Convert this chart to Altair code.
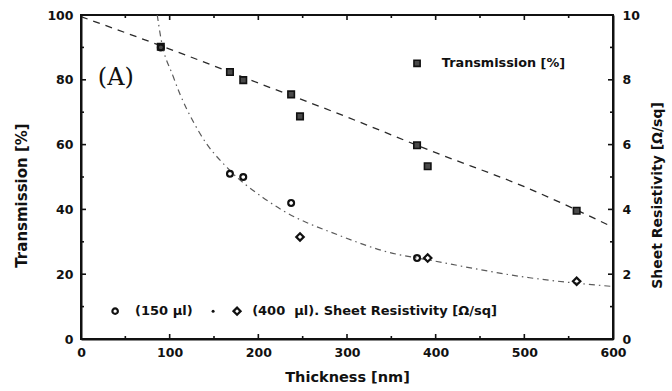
import altair as alt
import pandas as pd

# ---- data ----
thick_T = [90, 168, 183, 237, 247, 379, 391, 559]
trans = [90.2, 82.4, 79.9, 75.5, 68.7, 59.8, 53.3, 39.6]

thick_150 = [90, 168, 183, 237, 379]
res_150 = [9.0, 5.1, 5.0, 4.2, 2.5]

thick_400 = [247, 391, 559]
res_400 = [3.15, 2.5, 1.78]

# dashed fit curves
fitT_x = [0, 100, 200, 300, 400, 500, 600]
fitT_y = [99.5, 89.5, 79.0, 68.5, 57.5, 47.0, 34.5]
fitR_x = [86, 90, 104, 134, 168, 205, 228, 292, 341, 400, 506, 600]
fitR_y = [10.0, 9.3, 8.1, 6.35, 5.2, 4.37, 3.96, 3.19, 2.72, 2.4, 1.89, 1.62]

x_major = [0, 100, 200, 300, 400, 500, 600]
x_minor = [50, 150, 250, 350, 450, 550]
yl_major = [0, 20, 40, 60, 80, 100]
yl_minor = [10, 30, 50, 70, 90]
yr_major = [0, 2, 4, 6, 8, 10]
yr_minor = [1, 3, 5, 7, 9]

FONT = "DejaVu Sans"
INK = "#111111"
W, H = 532, 324
MAJ, MIN = 5, 3

dfT = pd.DataFrame({"x": thick_T, "y": trans})
df150 = pd.DataFrame({"x": thick_150, "y": res_150})
df400 = pd.DataFrame({"x": thick_400, "y": res_400})
dfFT = pd.DataFrame({"x": fitT_x, "y": fitT_y})
dfFR = pd.DataFrame({"x": fitR_x, "y": fitR_y})

xscale = alt.Scale(domain=[0, 600], nice=False)
ylscale = alt.Scale(domain=[0, 100], nice=False)
yrscale = alt.Scale(domain=[0, 10], nice=False)

x_main = alt.Axis(values=x_major, orient="bottom", ticks=False, tickSize=0, labelPadding=7, labelFlush=False,
                  title="Thickness [nm]", titlePadding=12, titleFontSize=14.5)
yl_main = alt.Axis(values=yl_major, orient="left", ticks=False, tickSize=0, labelPadding=8, labelFlush=False,
                   title="Transmission [%]", titlePadding=17, titleFontSize=15, titleY=180)
yr_main = alt.Axis(values=yr_major, orient="right", ticks=False, tickSize=0, labelPadding=9, labelFlush=False,
                   title="Sheet Resistivity [Ω/sq]", titlePadding=25, titleFontSize=14,
                   titleAngle=270, titleY=180)


def xticks(values, size):
    d = pd.DataFrame({"x": values})
    bot = alt.Chart(d).mark_rule(color=INK, strokeWidth=1.6).encode(
        x="x:Q", y=alt.value(H), y2=alt.value(H - size))
    top = alt.Chart(d).mark_rule(color=INK, strokeWidth=1.6).encode(
        x="x:Q", y=alt.value(0), y2=alt.value(size))
    return [bot, top]


def yticks(values, size, at_left):
    d = pd.DataFrame({"y": values})
    x0 = 0 if at_left else W
    x1 = size if at_left else W - size
    return alt.Chart(d).mark_rule(color=INK, strokeWidth=1.6).encode(
        y="y:Q", x=alt.value(x0), x2=alt.value(x1))


fitT = alt.Chart(dfFT).mark_line(color="#2a2a2a", strokeDash=[7, 6], strokeWidth=1.3, interpolate="monotone").encode(
    x=alt.X("x:Q", scale=xscale, axis=x_main), y=alt.Y("y:Q", scale=ylscale, axis=yl_main))
ptsT = alt.Chart(dfT).mark_point(shape="square", size=42, filled=True, fill="#4a4a4a", stroke=INK, strokeWidth=1.6, opacity=1).encode(
    x="x:Q", y="y:Q")

# legend items placed in data coordinates of the left axis
legT_pt = alt.Chart(pd.DataFrame({"x": [379], "y": [85.1]})).mark_point(
    shape="square", size=38, filled=True, fill="#4a4a4a", stroke=INK, strokeWidth=1.6, opacity=1).encode(
    x="x:Q", y="y:Q")
legT_txt = alt.Chart(pd.DataFrame({"x": [407], "y": [85.1], "t": ["Transmission [%]"]})).mark_text(
    align="left", baseline="middle", font=FONT, fontWeight="bold", fontSize=12.8, color=INK).encode(
    x="x:Q", y="y:Q", text="t:N")

labA = alt.Chart(pd.DataFrame({"x": [19], "y": [80.5], "t": ["(A)"]})).mark_text(
    align="left", baseline="middle", font="DejaVu Serif", fontSize=24, color=INK).encode(
    x="x:Q", y="y:Q", text="t:N")

leg_circle = alt.Chart(pd.DataFrame({"x": [38.5], "y": [8.6]})).mark_point(
    shape="circle", size=30, filled=False, stroke=INK, strokeWidth=2.2, opacity=1).encode(x="x:Q", y="y:Q")
leg_dot = alt.Chart(pd.DataFrame({"x": [149], "y": [8.6]})).mark_point(
    shape="circle", size=9, filled=True, color=INK, opacity=1).encode(x="x:Q", y="y:Q")
leg_diam = alt.Chart(pd.DataFrame({"x": [176], "y": [8.6]})).mark_point(
    shape="diamond", size=50, filled=False, stroke=INK, strokeWidth=2.2, opacity=1).encode(x="x:Q", y="y:Q")
leg_txt = alt.Chart(pd.DataFrame({"x": [61, 193], "y": [8.6, 8.6],
                                  "t": ["(150 µl)", "(400\u00a0\u00a0µl). Sheet Resistivity [Ω/sq]"]})).mark_text(
    align="left", baseline="middle", font=FONT, fontWeight="bold", fontSize=13, color=INK).encode(
    x="x:Q", y="y:Q", text="t:N")

left = alt.layer(fitT, ptsT, legT_pt, legT_txt, labA, leg_circle, leg_dot, leg_diam, leg_txt,
                 *xticks(x_major, MAJ), *xticks(x_minor, MIN),
                 yticks(yl_major, MAJ, True), yticks(yl_minor, MIN, True))

fitR = alt.Chart(dfFR).mark_line(color="#5a5a5a", strokeDash=[6, 4, 1.5, 4], strokeWidth=1.2, interpolate="monotone").encode(
    x=alt.X("x:Q", scale=xscale), y=alt.Y("y:Q", scale=yrscale, axis=yr_main))
pts150 = alt.Chart(df150).mark_point(shape="circle", size=34, filled=False, stroke=INK, strokeWidth=2.2, opacity=1).encode(
    x="x:Q", y="y:Q")
pts400 = alt.Chart(df400).mark_point(shape="diamond", size=55, filled=False, stroke=INK, strokeWidth=2.2, opacity=1).encode(
    x="x:Q", y="y:Q")
right = alt.layer(fitR, pts150, pts400, yticks(yr_major, MAJ, False), yticks(yr_minor, MIN, False))

chart = alt.layer(left, right).resolve_scale(y="independent").properties(
    width=W, height=H,
    autosize=alt.AutoSizeParams(type="none"),
    padding={"left": 81, "top": 15, "right": 59, "bottom": 52},
    background="white",
).configure_view(stroke=INK, strokeWidth=2).configure_axis(
    labelFont=FONT, labelFontWeight="bold", labelFontSize=12.5, labelColor=INK,
    titleFont=FONT, titleFontWeight="bold", titleColor=INK,
    domainColor=INK, domainWidth=2, grid=False,
)

chart.save("out.html", embed_options={"renderer": "svg", "actions": False})
